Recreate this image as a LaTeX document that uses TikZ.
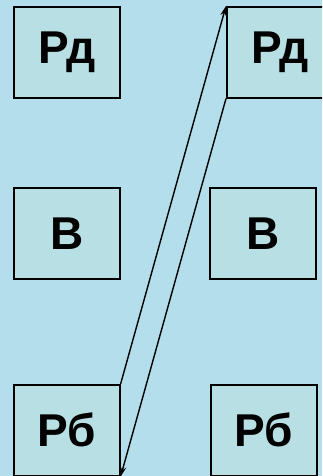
\documentclass[tikz,border=0pt]{standalone}
\usepackage{fontspec}
\setmainfont{Liberation Sans}
\usetikzlibrary{arrows.meta}
\definecolor{bgblue}{RGB}{180,222,235}
\definecolor{boxfill}{RGB}{184,224,228}
\begin{document}
\begin{tikzpicture}[x=1pt,y=1pt,
  cell/.style={draw=black, fill=boxfill, line width=1.6pt, minimum width=106pt, minimum height=91pt, inner sep=0pt, font=\fontsize{46}{50}\selectfont\bfseries, anchor=north west},
  link/.style={line width=1.4pt, -{Stealth[length=10pt,width=6pt]}}]
\useasboundingbox (0,0) rectangle (322,476);
\clip (0,0) rectangle (322,476);
\fill[bgblue] (0,0) rectangle (322,476);
\node[cell] (l1) at (13,470) {Рд};
\node[cell] (r1) at (226,470) {Рд};
\node[cell] (l2) at (13,289) {В};
\node[cell] (r2) at (209,289) {В};
\node[cell] (l3) at (13,92) {Рб};
\node[cell] (r3) at (210,92) {Рб};
\draw[link] (l3.north east) -- (r1.north west);
\draw[link] (r1.south west) -- (l3.south east);
\end{tikzpicture}
\end{document}
